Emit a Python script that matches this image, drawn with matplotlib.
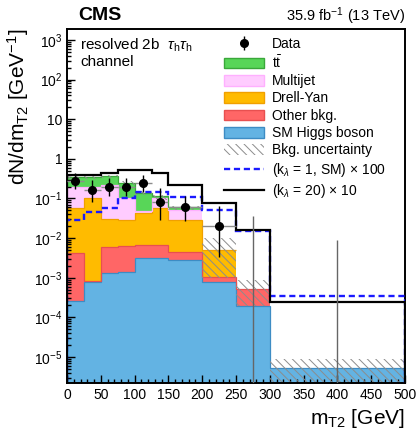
import numpy as np
import matplotlib
matplotlib.use('Agg')
import matplotlib.pyplot as plt
from matplotlib.patches import Patch
from matplotlib.lines import Line2D
from matplotlib.ticker import FuncFormatter, MultipleLocator, LogLocator, NullFormatter

plt.rcParams['font.family'] = ['Liberation Sans', 'DejaVu Sans']
plt.rcParams['mathtext.fontset'] = 'custom'
plt.rcParams['mathtext.rm'] = 'Liberation Sans'
plt.rcParams['mathtext.it'] = 'Liberation Sans:italic'
plt.rcParams['mathtext.bf'] = 'Liberation Sans:bold'
plt.rcParams['hatch.linewidth'] = 0.7

# ---------------- data ----------------
bin_edges = [0, 25, 50, 75, 100, 125, 150, 200, 250, 300, 500]
sm_higgs  = [2.6e-4, 7.9e-4, 1.33e-3, 1.41e-3, 3.07e-3, 3.1e-3, 2.78e-3, 7.7e-4, 1.9e-4, 5.1e-6]
other_bkg = [3.85e-3, 2e-5, 4.49e-3, 4.87e-3, 3.58e-3, 3.55e-3, 1.65e-3, 2.7e-4, 3.25e-4, 0]
drell_yan = [0.0521, 0.0999, 0.0239, 0.0222, 0.0362, 0.0508, 0.0241, 3.94e-3, 0, 0]
multijet  = [0.135, 0.090, 0.188, 0.0735, 0.0053, 0.0445, 0.0225, 0, 0, 0]
ttbar     = [0.150, 0.156, 0.150, 0.143, 0.089, 0.011, 0.0097, 0, 0, 0]

unc_low  = [0.31, 0.31, 0.33, 0.22, 0.12, 0.094, 0.051, 1.0e-3, 1.9e-4, 1e-6]
unc_high = [0.37, 0.38, 0.40, 0.27, 0.155, 0.125, 0.0664, 0.0100, 8.7e-4, 8.8e-6]

sig_sm_x100  = [0.0285, 0.0462, 0.0562, 0.1007, 0.148, 0.148, 0.107, 0.0509, 0.0155, 3.49e-4]
sig_k20_x10  = [0.39, 0.39, 0.43, 0.52, 0.52, 0.43, 0.218, 0.0752, 0.0163, 2.47e-4]

data_vals    = [0.28, 0.16, 0.20, 0.20, 0.24, 0.08, 0.06, 0.02, 0, 0]
data_err_lo  = [0.1032, 0.0764, 0.0864, 0.0864, 0.0952, 0.0516, 0.0326, 0.0166, 0, 0]
data_err_hi  = [0.1508, 0.1264, 0.1352, 0.1352, 0.1432, 0.1056, 0.0584, 0.046, 0.0368, 0.0092]

# ---------------- figure ----------------
fig = plt.figure(figsize=(4.19, 4.30), dpi=100)
ax = fig.add_axes([0.160, 0.1093, 0.8066, 0.8233])

edges = np.array(bin_edges, dtype=float)
centers = 0.5 * (edges[:-1] + edges[1:])
halfw = 0.5 * np.diff(edges)

components = [
    (sm_higgs,  '#63b3e3', '#3d8cc4', 'SM Higgs boson'),
    (other_bkg, '#ff6666', '#e85050', 'Other bkg.'),
    (drell_yan, '#ffbb00', '#f0a000', 'Drell-Yan'),
    (multijet,  '#ffccff', '#ffb0ff', 'Multijet'),
    (ttbar,     '#58d658', '#3aa83a', r't$\bar{\rm t}$'),
]

ymin = 2.2e-6
bottom = np.full(len(centers), ymin * 0.01)
handles = {}
for vals, fc, ec, lab in components:
    v = np.array(vals, dtype=float)
    top = bottom + v
    topm = np.where(v > 0, top, np.nan)
    ax.stairs(topm, edges, baseline=bottom, fill=True, facecolor=fc, edgecolor='none', lw=0, zorder=1)
    ax.stairs(topm, edges, baseline=None, fill=False, edgecolor=ec, lw=0.9, zorder=1.5)
    handles[lab] = Patch(facecolor=fc, edgecolor=ec, lw=1.0)
    bottom = top

# uncertainty band
ax.stairs(np.array(unc_high), edges, baseline=np.array(unc_low), fill=True,
          facecolor='none', edgecolor='#8c8c8c', lw=0, hatch='\\\\\\\\', zorder=2)

# signals
ax.stairs(np.array(sig_sm_x100), edges, baseline=ymin * 0.01, fill=False,
          edgecolor='#1a1aff', lw=1.7, linestyle=(0, (2.6, 1.6)), zorder=3)
ax.stairs(np.array(sig_k20_x10), edges, baseline=ymin * 0.01, fill=False,
          edgecolor='black', lw=1.6, zorder=3)

# data
dv = np.array(data_vals)
lo = np.array(data_err_lo)
hi = np.array(data_err_hi)
nz = dv > 0
ax.hlines(dv[nz], (centers - halfw)[nz], (centers + halfw)[nz], color='#8c8c8c', lw=1.0, zorder=4)
eb = ax.errorbar(centers[nz], dv[nz], yerr=[lo[nz], hi[nz]], fmt='o', color='black',
                 ms=5.5, lw=1.0, capsize=0, zorder=5)
ax.vlines(centers[~nz], ymin * 0.5, hi[~nz], color='#666666', lw=1.0, zorder=4)

# axes
ax.set_yscale('log')
ax.set_xlim(0, 500)
ax.set_ylim(ymin, 1.9e3)

ax.xaxis.set_major_locator(MultipleLocator(50))
ax.xaxis.set_minor_locator(MultipleLocator(10))
ax.yaxis.set_major_locator(LogLocator(base=10, numticks=20))
ax.yaxis.set_minor_locator(LogLocator(base=10, subs=np.arange(2, 10), numticks=20))
ax.yaxis.set_minor_formatter(NullFormatter())

def yfmt(v, pos):
    e = int(round(np.log10(v)))
    if e == 0:
        return '1'
    if e == 1:
        return '10'
    return r'$10^{%d}$' % e
ax.yaxis.set_major_formatter(FuncFormatter(yfmt))

ax.tick_params(which='both', direction='in', top=False, right=False, labelsize=10, width=1.0)
ax.tick_params(which='major', length=6)
ax.tick_params(which='minor', length=3)
for s in ax.spines.values():
    s.set_linewidth(1.4)

ax.set_xlabel(r'm$_{\rm T2}$ [GeV]', fontsize=15, loc='right', labelpad=4)
ax.set_ylabel(r'dN/dm$_{\rm T2}$ [GeV$^{-1}$]', fontsize=15, loc='top', labelpad=2)

fig.text(0.187, 0.963, 'CMS', fontsize=14, fontweight='bold', ha='left', va='center')
fig.text(0.967, 0.963, r'35.9 fb$^{-1}$ (13 TeV)', fontsize=10.5, ha='right', va='center')
ax.text(0.038, 0.979, r'resolved 2b  $\tau_{\rm h}\tau_{\rm h}$' + '\nchannel', transform=ax.transAxes,
        fontsize=11, ha='left', va='top', linespacing=1.1)

unc_handle = Patch(facecolor='white', edgecolor='#8c8c8c', lw=0, hatch='\\\\\\\\')
leg_handles = [eb, handles[r't$\bar{\rm t}$'], handles['Multijet'], handles['Drell-Yan'],
               handles['Other bkg.'], handles['SM Higgs boson'], unc_handle,
               Line2D([], [], color='#1a1aff', lw=1.7, linestyle=(0, (2.6, 1.6))),
               Line2D([], [], color='black', lw=1.6)]
leg_labels = ['Data', r't$\bar{\rm t}$', 'Multijet', 'Drell-Yan', 'Other bkg.', 'SM Higgs boson',
              'Bkg. uncertainty', r'(k$_{\lambda}$ = 1, SM) $\times$ 100', r'(k$_{\lambda}$ = 20) $\times$ 10']
ax.legend(leg_handles, leg_labels, loc='upper left', bbox_to_anchor=(0.455, 0.986), frameon=False,
          fontsize=10, handlelength=2.9, handleheight=0.8, handletextpad=0.6, labelspacing=0.24,
          borderpad=0.2, borderaxespad=0)

fig.savefig('out.png', dpi=100)
